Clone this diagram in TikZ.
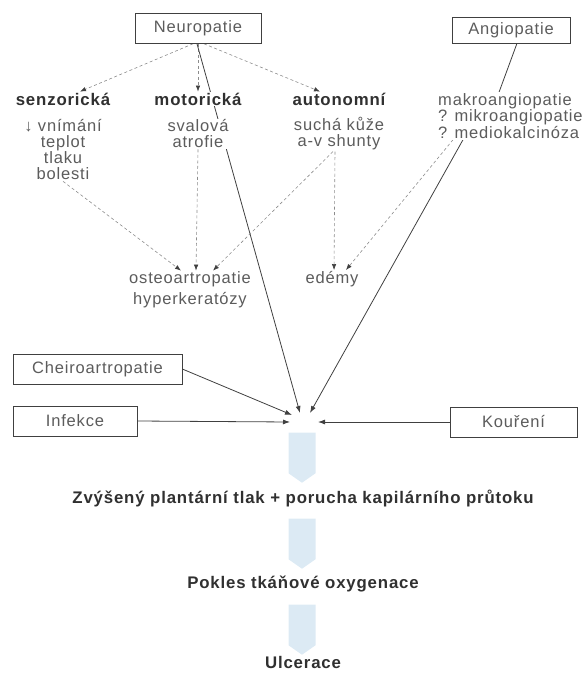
\documentclass[tikz,border=0pt]{standalone}
\usepackage{fontspec}
\setmainfont{Liberation Sans}[LetterSpace=5]
\usetikzlibrary{arrows.meta,backgrounds,shapes.arrows}
\definecolor{txtgray}{HTML}{5C5C5C}
\definecolor{boldgray}{HTML}{303030}
\definecolor{linegray}{HTML}{404040}
\definecolor{dashgray}{HTML}{8C8C8C}
\definecolor{blockblue}{HTML}{DCEAF4}
\begin{document}
\begin{tikzpicture}[x=1pt,y=-1pt,line cap=round,
    box/.style={draw=linegray,line width=0.6pt,fill=white,text=txtgray,
      font=\fontsize{16.5}{16}\selectfont,minimum height=30pt},
    head/.style={fill=white,text=boldgray,inner sep=1pt,
      font=\bfseries\fontsize{16.8}{16}\selectfont},
    body/.style={fill=white,text=txtgray,inner sep=1pt,align=center,
      font=\fontsize{16.5}{16}\selectfont},
    result/.style={text=boldgray,font=\bfseries\fontsize{16.8}{18}\selectfont},
    blockarr/.style={shape=single arrow,rotate=-90,fill=blockblue,
      minimum width=27pt,minimum height=50pt,inner sep=0pt,
      single arrow head extend=0pt,single arrow tip angle=110},
    dsharr/.style={dashgray,line width=0.6pt,dash pattern=on 3pt off 2.5pt,
      -{Latex[length=6pt,width=4.5pt,color=linegray]}},
    solarr/.style={linegray,line width=0.8pt,-{Latex[length=7pt,width=5pt]}}]
\useasboundingbox (0,0) rectangle (586,674);

% upper boxes
\node[box,minimum width=126pt] (neuro) at (198,28.5) {Neuropatie};
\node[box,minimum width=118pt,minimum height=26pt] (angio) at (511,30) {Angiopatie};

% forms of neuropathy
\node[head] (senz) at (63,99) {senzorická};
\node[body] (senzT) at (63,150) {↓ vnímání\\teplot\\tlaku\\bolesti};
\node[head] (motor) at (198,99) {motorická};
\node[body] (motorT) at (198,134) {svalová\\atrofie};
\node[head] (auto) at (339,99) {autonomní};
\node[body] (autoT) at (339,134) {suchá kůže\\a-v shunty};
\node[body,align=left,anchor=west,font=\fontsize{16.5}{14.5}\selectfont]
  (angioT) at (437,116) {makroangiopatie\\? mikroangiopatie\\? mediokalcinóza};

% consequences
\node[body,font=\fontsize{16.5}{21}\selectfont] (osteo) at (190,290) {osteoartropatie\\hyperkeratózy};
\node[body] (edem) at (332,279) {edémy};

% side factors
\node[box,minimum width=169pt] (cheiro) at (97.5,369) {Cheiroartropatie};
\node[box,minimum width=124pt] (infek) at (75,421) {Infekce};
\node[box,minimum width=127pt] (kour) at (513.5,422) {Kouření};

% meeting point
\coordinate (hubW) at (290,422);
\coordinate (hubNW) at (292,415);
\coordinate (hubN) at (300,413);
\coordinate (hubNE) at (310,413);
\coordinate (hubE) at (318,422);

% chain below
\node[blockarr] (blk1) at (302,453) {};
\node[result] (res1) at (303,498) {Zvýšený plantární tlak + porucha kapilárního průtoku};
\node[blockarr] (blk2) at (302,539) {};
\node[result] (res2) at (303,584) {Pokles tkáňové oxygenace};
\node[blockarr] (blk3) at (302,625) {};
\node[result] (res3) at (303,662) {Ulcerace};

\begin{scope}[on background layer]
  \draw[dsharr] ([xshift=-5pt]neuro.south) -- ([xshift=17pt]senz.north);
  \draw[dsharr] (neuro.south) -- (motor.north);
  \draw[dsharr] ([xshift=6pt]neuro.south) -- ([xshift=-19pt]auto.north);
  \draw[solarr] ([xshift=-1pt]neuro.south) -- (hubN);

  \draw[linegray,line width=0.8pt] ([xshift=6pt]angio.south) -- ([xshift=62pt]angioT.north west);
  \draw[solarr] ([xshift=26pt]angioT.south west) -- (hubNE);
  \draw[dsharr] ([xshift=16pt]angioT.south west) -- ([xshift=14pt]edem.north);

  \draw[dsharr] (senzT.south) -- ([xshift=-9pt]osteo.north);
  \draw[dsharr] (motorT.south) -- ([xshift=6pt]osteo.north);
  \draw[dsharr] ([xshift=-6pt]autoT.south) -- ([xshift=23pt]osteo.north);
  \draw[dsharr] ([xshift=-4pt]autoT.south) -- ([xshift=2pt]edem.north);

  \draw[solarr] (cheiro.east) -- (hubNW);
  \draw[solarr] (infek.east) -- (hubW);
  \draw[solarr] (kour.west) -- (hubE);
\end{scope}
\end{tikzpicture}
\end{document}
